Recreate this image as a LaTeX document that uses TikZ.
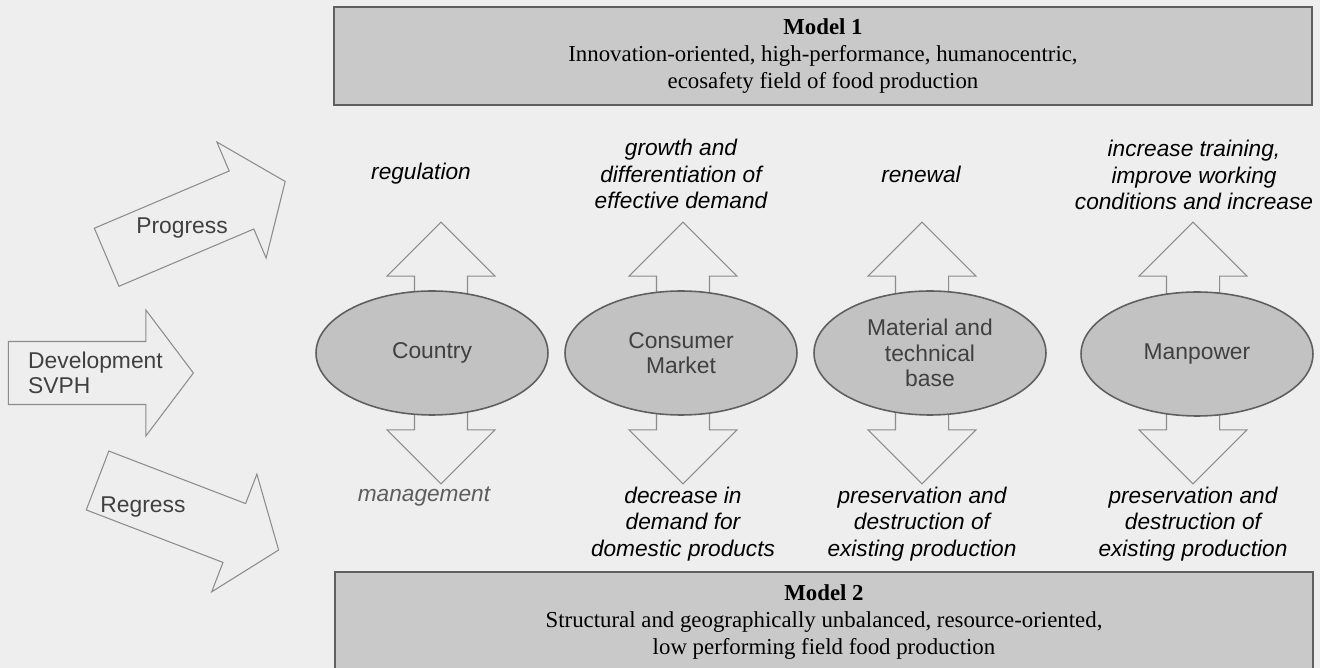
\documentclass[tikz,border=0pt]{standalone}
\usepackage{fontspec}
\setmainfont{Liberation Serif}
\setsansfont{Liberation Sans}
\usetikzlibrary{shapes.geometric, shapes.arrows}

\definecolor{paper}{HTML}{EEEEEE}
\definecolor{boxgray}{HTML}{C9C9C9}
\definecolor{ovalgray}{HTML}{C2C2C2}
\definecolor{rimgray}{HTML}{5F5F5F}
\definecolor{arrowgray}{HTML}{8C8C8C}
\definecolor{inkgray}{HTML}{404040}

\begin{document}
\begin{tikzpicture}[x=0.02cm, y=-0.02cm]
    \tikzstyle{model} = [rectangle, draw=rimgray, fill=boxgray, line width=1.1pt, inner sep=0pt, minimum width=19.56cm, minimum height=1.96cm, align=center, font=\fontsize{13}{15.4}\selectfont]
    \tikzstyle{field} = [ellipse, draw=rimgray, fill=ovalgray, line width=0.9pt, inner sep=0pt, minimum width=4.64cm, minimum height=2.48cm, align=center, text=inkgray, font=\sffamily\fontsize{13}{14.5}\selectfont]
    \tikzstyle{updown} = [double arrow, draw=arrowgray, fill=paper, line width=0.6pt, inner xsep=0pt, inner ysep=0.52cm, rotate=90, minimum height=5.24cm, minimum width=2.14cm, double arrow head extend=0.55cm, double arrow tip angle=90]
    \tikzstyle{trend} = [single arrow, draw=arrowgray, fill=paper, line width=0.6pt, inner xsep=0pt, inner ysep=0.62cm, minimum height=3.88cm, minimum width=2.5cm, single arrow head extend=0.63cm, single arrow tip angle=106]
    \tikzstyle{plain} = [text=inkgray, font=\sffamily\fontsize{13}{14.5}\selectfont]
    \tikzstyle{effect} = [align=center, font=\sffamily\itshape\fontsize{12.9}{15}\selectfont]

    \useasboundingbox (0,0) rectangle (1320,668);
    \fill[paper] (0,0) rectangle (1320,668);
    \clip (0,0) rectangle (1320,668);

    % the two models
    \node[model] (model1) at (823,56) {\textbf{Model 1}\\Innovation-oriented, high-performance, humanocentric,\\ecosafety field of food production};
    \node[model, minimum height=2cm] (model2) at (824,622) {\textbf{Model 2}\\Structural and geographically unbalanced, resource-oriented,\\low performing field food production};

    % development of SVPH
    \node[trend, rotate=23] (progress) at (185,224) {};
    \node[trend, minimum height=3.7cm] (develop) at (89,373) {};
    \node[trend, rotate=-21] (regress) at (177,511) {};
    \node[plain] (progresstext) at (182,228) {Progress};
    \node[plain, align=left, anchor=west] (developtext) at (22,373) {Development\\SVPH};
    \node[plain] (regresstext) at (143,507) {Regress};

    % subjects of the field
    \foreach \name/\x in {country/441, market/683, base/922, manpower/1193}
    \node[updown] (\name flow) at (\x,353) {};

    \node[field] (country) at (432,353) {Country};
    \node[field] (market) at (681,353) {Consumer\\Market};
    \node[field] (base) at (930,353) {Material and\\technical\\base};
    \node[field] (manpower) at (1197,354) {Manpower};

    % effects up and down
    \node[effect] (regulation) at (421,174) {regulation};
    \node[effect] (growth) at (681,174) {growth and\\differentiation of\\effective demand};
    \node[effect] (renewal) at (921,174) {renewal};
    \node[effect] (training) at (1194,175) {increase training,\\improve working\\conditions and increase};
    \node[effect, text=inkgray!85] (management) at (424,497) {management};
    \node[effect] (decrease) at (683,524) {decrease in\\demand for\\domestic products};
    \node[effect] (keepbase) at (922,524) {preservation and\\destruction of\\existing production};
    \node[effect] (keepstaff) at (1193,524) {preservation and\\destruction of\\existing production};
\end{tikzpicture}
\end{document}
